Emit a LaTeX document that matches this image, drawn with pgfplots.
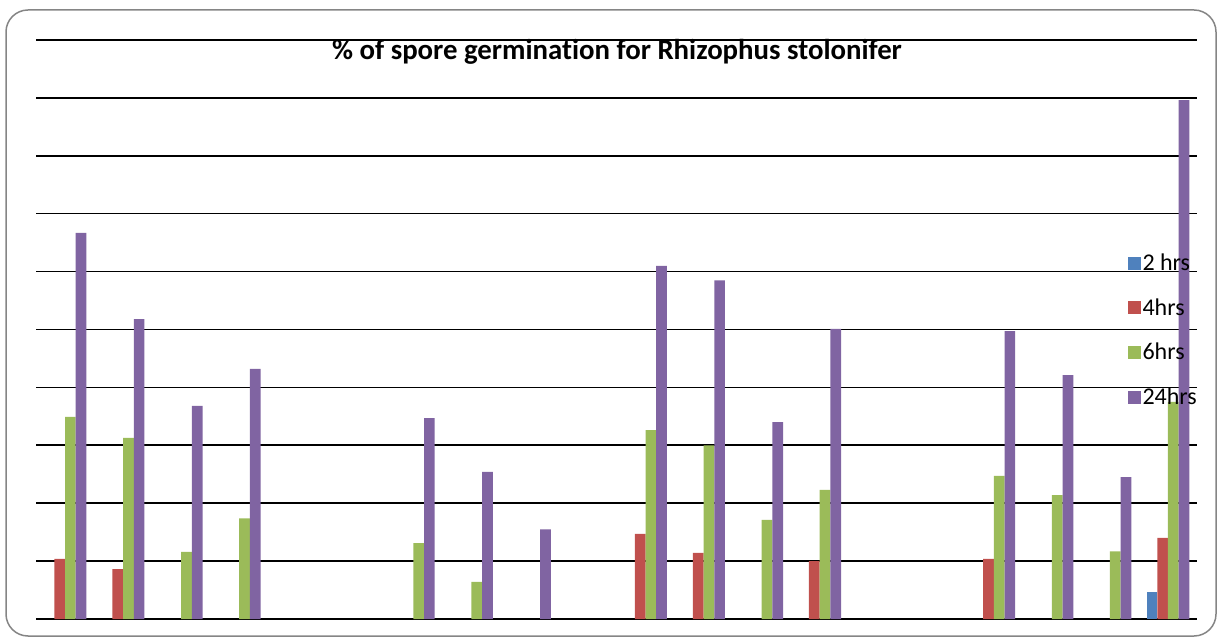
\documentclass[border=0pt]{standalone}
\usepackage{pgfplots}
\pgfplotsset{compat=1.18}
\usepackage{fontspec}
\setmainfont[Ligatures=NoCommon]{Carlito}
\definecolor{cblue}{HTML}{4F81BD}
\definecolor{cred}{HTML}{C0504D}
\definecolor{cgreen}{HTML}{9BBB59}
\definecolor{cpurple}{HTML}{8064A2}
\begin{document}
\begin{tikzpicture}[x=1pt,y=1pt]
\path (0,0) rectangle (1223,643);
\draw[color=black!48, line width=1.5pt, rounded corners=22pt] (6,7) rectangle (1216,633);
\begin{axis}[
  at={(36pt,24pt)}, anchor=south west,
  scale only axis, width=1161pt, height=579pt,
  xmin=0, xmax=20, ymin=0, ymax=100,
  axis line style={draw=none},
  ytick={0,10,...,100}, ymajorgrids,
  grid style={black, line width=1.6pt},
  xtick=\empty, yticklabels={}, major tick length=0pt,
  ybar=0pt, bar width=10.7pt,
  clip=false,
  legend style={at={(0.94,0.499)}, anchor=west, draw=none, fill=none,
    font=\fontsize{24}{26}\selectfont, row sep=22.5pt, inner sep=0pt,
    /tikz/every even column/.append style={column sep=7pt}},
  legend cell align=left,
  legend image code/.code={\fill[#1] (0pt,-6.5pt) rectangle (13pt,6.5pt);},
]
\addplot[fill=cblue, draw=none] coordinates {(19.5,4.7)};
\addplot[fill=cred, draw=none] coordinates {
(0.5,10.4) (1.5,8.6) (10.5,14.7) (11.5,11.4) (13.5,10.0) (16.5,10.4) (19.5,14.0)};
\addplot[fill=cgreen, draw=none] coordinates {
(0.5,34.9) (1.5,31.3) (2.5,11.6) (3.5,17.4) (6.5,13.1) (7.5,6.4) (10.5,32.6) (11.5,30.0)
(12.5,17.1) (13.5,22.3) (16.5,24.7) (17.5,21.4) (18.5,11.7) (19.5,37.5)};
\addplot[fill=cpurple, draw=none] coordinates {
(0.5,66.7) (1.5,51.8) (2.5,36.8) (3.5,43.2) (6.5,34.7) (7.5,25.4) (8.5,15.5) (10.5,61.0)
(11.5,58.5) (12.5,34.0) (13.5,50.1) (16.5,49.7) (17.5,42.1) (18.5,24.5) (19.5,89.6)};
\legend{2 hrs,4hrs,6hrs,24hrs}
\end{axis}
\node[font=\fontsize{28.8}{32}\selectfont\bfseries] at (617,591) {\% of spore germination for Rhizophus stolonifer};
\end{tikzpicture}
\end{document}
